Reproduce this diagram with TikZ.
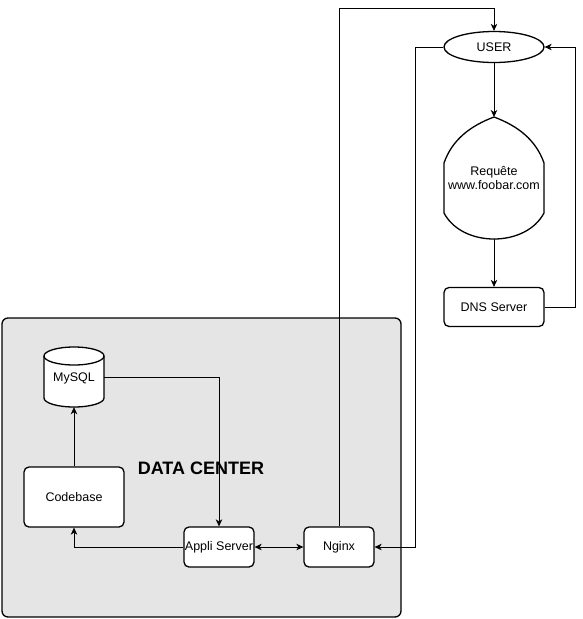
\documentclass[tikz,border=0pt]{standalone}
\usepackage{fontspec}
\setmainfont{Liberation Sans}
\usetikzlibrary{arrows.meta,shapes.geometric}
\begin{document}
\begin{tikzpicture}[x=1pt,y=-1pt,
  conn/.style={line width=0.8pt,-{Stealth[length=7pt,width=6.5pt,inset=2pt]}},
  box/.style={draw,line width=1.3pt,rounded corners=5pt,fill=white,inner sep=0pt},
  every node/.style={font=\fontsize{12.5}{14}\selectfont}]
\useasboundingbox (0,0) rectangle (583,619);
% data center
\node[draw,line width=1.3pt,rounded corners=6pt,fill=black!10,minimum width=399pt,minimum height=299pt,inner sep=0pt] (dc) at (201.5,467.5) {};
\node[font=\fontsize{18}{20}\bfseries] (dct) at (201,468) {DATA CENTER};
% mysql
\draw[line width=1.3pt,fill=white] (44,356) -- (44,398) arc[start angle=180,end angle=0,x radius=30,y radius=9] -- (104,356) arc[start angle=0,end angle=-180,x radius=30,y radius=9] -- cycle;
\draw[line width=1.3pt] (44,356) arc[start angle=180,end angle=0,x radius=30,y radius=9];
\node[minimum width=60pt,minimum height=60pt,inner sep=0pt] (db) at (74,377) {};
\node (dbt) at (74,378) {MySQL};
\node[box,minimum width=100pt,minimum height=60pt] (code) at (74,497) {Codebase};
\node[box,minimum width=70pt,minimum height=40pt] (app) at (219,547) {Appli Server};
\node[box,minimum width=70pt,minimum height=40pt] (ngx) at (339,547) {Nginx};
% user side
\node[draw,ellipse,line width=1.3pt,minimum width=100pt,minimum height=31pt,fill=white,inner sep=0pt] (user) at (494,47) {USER};
\draw[line width=1.3pt,fill=white] (444,163) .. controls (452,140) and (470,126) .. (494,117)
   .. controls (518,126) and (536,140) .. (544,163) -- (544,213)
   .. controls (535,230) and (515,239) .. (494,239)
   .. controls (473,239) and (453,230) .. (444,213) -- cycle;
\coordinate (reqtop) at (494,117);
\coordinate (reqbot) at (494,239);
\node[align=center] (req) at (494,178) {Requête\\www.foobar.com};
\node[box,minimum width=100pt,minimum height=39pt] (dns) at (494,307) {DNS Server};
% connectors
\draw[conn] (db.east |- 0,377) -| (app.north);
\draw[conn] (code.north) -- (db.south);
\draw[conn] (app.west) -| (code.south);
\draw[line width=0.8pt,{Stealth[length=7pt,width=6.5pt,inset=2pt]}-{Stealth[length=7pt,width=6.5pt,inset=2pt]}] (app.east) -- (ngx.west);
\draw[conn] (ngx.north) |- (494,8) -- (user.north);
\draw[conn] (user.west) -| (415,547) -- (ngx.east);
\draw[conn] (user.south) -- (reqtop);
\draw[conn] (reqbot) -- (dns.north);
\draw[conn] (dns.east) -| (575,47) -- (user.east);
\end{tikzpicture}
\end{document}
